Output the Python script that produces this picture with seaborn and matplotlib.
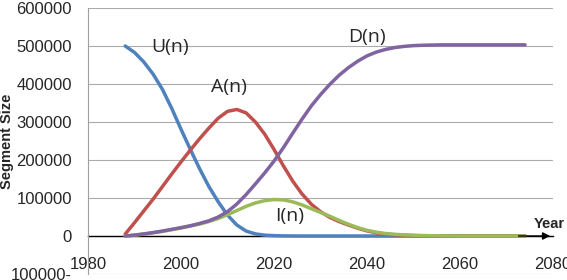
import matplotlib
matplotlib.use("Agg")
import matplotlib.pyplot as plt
import numpy as np
import pandas as pd
import seaborn as sns

years = list(range(1988, 2075, 2))
U = [500000, 483000, 458000, 426000, 386000, 336000, 281000, 228000, 177000, 130000,
     90000, 55000, 29000, 13000, 5500, 2200, 900, 300, 100] + [0] * 25
A = [5000, 35000, 66000, 97000, 130000, 163000, 195000, 226000, 256000, 284000,
     310000, 328000, 333000, 324000, 300000, 268000, 228000, 185000, 145000, 111000,
     84000, 64000, 49000, 38000, 29000, 20500, 13500, 8500, 5200, 3200,
     2000, 1000, 500, 200] + [0] * 10
I = [0, 2000, 5000, 8500, 12000, 16500, 21000, 26000, 31500, 38000,
     46000, 56000, 67000, 78000, 87000, 93000, 96000, 95000, 90000, 82000,
     72000, 62000, 52000, 41000, 31000, 22000, 15000, 10000, 6500, 4500,
     3000, 2000, 1200, 700, 400, 200] + [0] * 8
D = [0, 2500, 5500, 9000, 13000, 17500, 22000, 27000, 33000, 40000,
     50000, 64000, 84000, 109000, 137000, 166000, 197000, 232000, 270000, 307000,
     342000, 372000, 399000, 423000, 443000, 460000, 474000, 484000, 491000, 496000,
     499000, 501000, 502000, 502500] + [503000] * 10

series_names = ["U(n)", "A(n)", "I(n)", "D(n)"]
colors = ["#4F81BD", "#C0504D", "#9BBB59", "#8064A2"]
x_ticks = [1980, 2000, 2020, 2040, 2060, 2080]
y_ticks = [-100000, 0, 100000, 200000, 300000, 400000, 500000, 600000]
y_ticklabels = ["100000-", "0", "100000", "200000", "300000", "400000", "500000", "600000"]

df = pd.concat([
    pd.DataFrame({"Year": years, "Value": vals, "Series": name})
    for name, vals in zip(series_names, [U, A, I, D])
], ignore_index=True)

sns.set_style("white")
plt.rcParams["font.family"] = ["Liberation Sans", "DejaVu Sans"]

fig = plt.figure(figsize=(5.67, 2.8), dpi=100)
ax = fig.add_axes([88 / 567, 6 / 280, (553 - 88) / 567, 266 / 280])

sns.lineplot(data=df, x="Year", y="Value", hue="Series", hue_order=series_names,
             palette=colors, linewidth=2.5, legend=False, ax=ax, zorder=3)

ax.set_xlim(1980, 2080)
ax.set_ylim(-100000, 600000)
ax.set_yticks(y_ticks)
ax.set_yticklabels(y_ticklabels)
ax.set_xticks(x_ticks)
ax.set_xticklabels([str(t) for t in x_ticks])
ax.set_xlabel("")
ax.set_ylabel("")

ax.grid(axis="y", color="#ABABAB", linewidth=0.8)
ax.grid(axis="x", visible=False)
ax.set_axisbelow(True)

for s in ["top", "right"]:
    ax.spines[s].set_visible(False)
ax.spines["left"].set_color("#A0A0A0")
ax.spines["left"].set_linewidth(0.8)
ax.spines["bottom"].set_position(("data", 0))
ax.spines["bottom"].set_color("black")
ax.spines["bottom"].set_linewidth(1.0)
ax.spines["bottom"].set_zorder(2)

ax.tick_params(axis="y", length=2.5, color="#A0A0A0", pad=9, labelsize=12)
ax.tick_params(axis="x", length=3, color="black", direction="out", pad=12, labelsize=12)

ax.annotate("", xy=(2080, 0), xytext=(2072, 0),
            arrowprops=dict(arrowstyle="-|>", color="black", lw=1, mutation_scale=11),
            annotation_clip=False)

lab_font = dict(family=["Open Sans", "DejaVu Sans"], fontsize=14, ha="center", va="center")
ax.text(1997.6, 497000, "U(n)", **lab_font)
ax.text(2010.3, 392000, "A(n)", **lab_font)
ax.text(2040.0, 524000, "D(n)", **lab_font)
ax.text(2023.3, 53000, "I(n)", **lab_font)

ax.text(2079.1, 31600, "Year", fontsize=10.5, fontweight="bold", ha="center", va="center",
        clip_on=False)
fig.text(14 / 567, 1 - 141.5 / 280, "Segment Size", rotation=90, fontsize=10.5,
         fontweight="bold", ha="right", va="center")

fig.savefig("out.png", dpi=100)
